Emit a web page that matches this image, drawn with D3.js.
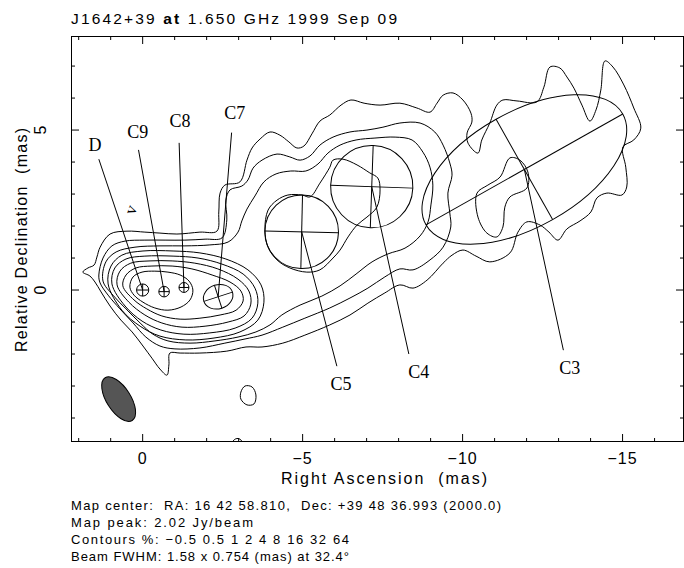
<!DOCTYPE html>
<html>
<head>
<meta charset="utf-8">
<title>J1642+39 at 1.650 GHz 1999 Sep 09</title>
<script src="https://cdn.jsdelivr.net/npm/d3@7/dist/d3.min.js"></script>
<style>
  html, body { margin: 0; padding: 0; background: #fff; }
  svg { display: block; }
  text { font-family: "Liberation Sans", Arial, sans-serif; fill: #000; white-space: pre; }
  text.serif { font-family: "Liberation Serif", "Times New Roman", serif; }
</style>
</head>
<body>
<svg id="map" width="684" height="568"></svg>
<script>
// ---------------- observation ----------------
const sourceName = "J1642+39";
const frequencyText = "1.650 GHz";
const epochText = "1999 Sep 09";
const mapCenterText = "Map center:  RA: 16 42 58.810,  Dec: +39 48 36.993 (2000.0)";
const mapPeak = 2.02;                                   // Jy/beam
const contourLevels = [-0.5, 0.5, 1, 2, 4, 8, 16, 32, 64]; // % of peak
const beamFWHM = [1.58, 0.754, 32.4];                   // major, minor (mas), PA (deg)
const beamPlotAt = [0.75, -3.41];                       // RA, Dec offset of the beam symbol (mas)

// ---------------- axes ----------------
const raRange = [2.24, -16.92];   // mas, east to the left
const decRange = [-4.75, 7.94];   // mas
const raTickLabels = [0, -5, -10, -15];
const decTickLabels = [0, 5];

// ---------------- model-fit components ----------------
const compNames = ["D", "C9", "C8", "C7", "C5", "C4", "C3"];
const compRA    = [0.00, -0.67, -1.29, -2.36, -4.97, -7.16, -11.93];
const compDec   = [0.00, -0.05, 0.08, -0.21, 1.82, 3.23, 3.77];
const compMajor = [0.38, 0.33, 0.31, 0.94, 2.30, 2.57, 7.06];  // FWHM, mas
const compMinor = [0.38, 0.33, 0.31, 0.75, 2.30, 2.57, 3.60];  // FWHM, mas
const compPA    = [0, 0, 0, -72, 88.7, 88, -60.6];             // deg, N through E

// label text anchors and far ends of the leader lines (RA, Dec in mas)
const labelRA   = [1.49, 0.15, -1.17, -2.88, -6.20, -8.63, -13.35];
const labelDec  = [4.53, 4.94, 5.28, 5.53, -2.94, -2.56, -2.44];
const leaderRA  = [1.37, 0.13, -1.14, -2.78, -6.07, -8.32, -13.15];
const leaderDec = [4.09, 4.38, 4.60, 4.92, -2.38, -2.00, -1.88];

// ---------------- contours (RA, Dec in mas) ----------------
const contour05 = [
  [1.87,0.56],[1.71,0.69],[1.52,0.78],[1.43,1.03],[1.33,1.34],[1.02,1.75],[0.49,1.84],[-0.07,1.81],
  [-0.54,1.78],[-1.07,1.75],[-1.79,1.81],[-2.32,1.84],[-2.38,2.44],[-2.42,3.03],[-2.57,3.28],[-3.04,3.38],
  [-3.26,4.06],[-3.42,4.44],[-3.67,4.72],[-3.98,4.94],[-4.29,4.84],[-4.57,4.63],[-4.82,4.44],[-5.04,4.50],
  [-5.29,4.88],[-5.54,5.28],[-5.85,5.47],[-6.20,5.78],[-6.51,5.94],[-6.92,5.84],[-7.42,5.78],[-8.04,5.84],
  [-8.57,5.69],[-8.98,5.56],[-9.20,5.84],[-9.39,6.09],[-9.70,6.16],[-10.01,5.94],[-10.26,5.53],[-10.29,5.25],
  [-10.14,4.91],[-10.17,4.59],[-10.48,4.28],[-10.60,4.69],[-10.85,5.22],[-11.07,5.78],[-11.26,5.94],[-11.70,5.91],
  [-12.32,5.88],[-12.54,6.34],[-12.73,6.97],[-13.04,6.94],[-13.26,6.66],[-13.48,6.31],[-13.73,5.78],[-13.98,5.28],
  [-14.17,5.63],[-14.32,6.25],[-14.45,7.16],[-14.70,6.97],[-15.04,6.41],[-15.35,5.69],[-15.57,5.06],[-15.35,4.69],
  [-15.01,4.47],[-15.10,3.84],[-15.13,3.22],[-14.98,2.97],[-14.51,3.03],[-14.20,2.88],[-14.01,2.44],[-13.67,2.16],
  [-13.26,1.91],[-12.98,1.56],[-12.70,1.81],[-12.42,2.03],[-12.01,2.13],[-11.73,1.81],[-11.48,1.16],[-10.85,0.88],
  [-10.42,1.06],[-10.01,1.25],[-9.67,1.09],[-9.39,0.84],[-8.89,0.31],[-8.45,0.06],[-8.04,0.16],[-7.57,-0.09],
  [-7.04,-0.41],[-6.48,-0.78],[-5.85,-1.09],[-5.07,-1.41],[-4.38,-1.66],[-3.73,-1.78],[-3.23,-1.78],[-2.63,-1.91],
  [-1.79,-1.97],[-1.17,-1.97],[-0.85,-1.97],[-0.82,-2.34],[-0.76,-2.66],[-0.54,-2.47],[-0.29,-2.13],[-0.01,-1.75],
  [0.33,-1.31],[0.68,-0.94],[1.02,-0.50],[1.30,-0.06],[1.49,0.25],[1.65,0.44]
];
const contour1 = [
  [1.37,0.47],[1.24,1.00],[0.96,1.38],[0.55,1.53],[-0.07,1.56],[-0.70,1.56],[-1.32,1.56],[-1.95,1.59],
  [-2.48,1.63],[-2.63,2.19],[-2.60,2.81],[-2.73,3.13],[-3.10,3.25],[-3.29,3.44],[-3.45,3.81],[-3.73,4.06],
  [-4.20,4.25],[-4.60,4.16],[-4.92,4.06],[-5.23,4.19],[-5.54,4.53],[-5.95,4.78],[-6.48,4.94],[-7.01,5.00],
  [-7.51,5.09],[-8.04,5.22],[-8.67,5.22],[-9.13,4.94],[-9.39,4.53],[-9.60,3.97],[-9.67,3.59],[-9.54,3.03],
  [-9.60,2.41],[-9.63,1.97],[-9.39,1.34],[-8.98,0.94],[-8.45,0.63],[-8.04,0.66],[-7.57,0.41],[-7.04,0.06],
  [-6.48,-0.25],[-5.85,-0.56],[-5.07,-0.88],[-4.38,-1.16],[-3.73,-1.41],[-3.20,-1.53],[-2.57,-1.66],[-1.79,-1.81],
  [-1.01,-1.84],[-0.54,-1.75],[-0.10,-1.47],[0.30,-1.03],[0.71,-0.59],[1.08,-0.16],[1.33,0.22]
];
const contour1Outer = [
  [-10.45,3.03],[-10.48,2.28],[-10.76,1.78],[-11.07,1.66],[-11.26,1.97],[-11.32,2.59],[-11.48,2.91],
  [-12.01,3.19],[-12.04,3.69],[-11.79,4.06],[-11.48,4.13],[-11.17,3.53],[-10.79,3.28]
];
const contour2 = [
  [1.24,0.28],[1.15,0.88],[0.83,1.19],[0.24,1.34],[-0.54,1.38],[-1.32,1.38],[-2.10,1.41],[-2.67,1.50],
  [-2.98,1.81],[-3.10,2.16],[-3.26,2.53],[-3.51,2.94],[-3.79,3.38],[-4.17,3.63],[-4.63,3.72],[-5.10,3.72],
  [-5.48,3.94],[-5.79,4.28],[-6.17,4.53],[-6.67,4.69],[-7.26,4.75],[-7.89,4.78],[-8.42,4.69],[-8.76,4.31],
  [-8.98,3.84],[-9.07,3.28],[-9.01,2.66],[-8.92,2.13],[-8.67,1.69],[-8.20,1.31],[-7.67,1.13],[-7.17,0.88],
  [-6.67,0.50],[-6.17,0.13],[-5.60,-0.19],[-4.92,-0.47],[-4.35,-0.78],[-3.98,-1.09],[-3.54,-1.31],[-2.98,-1.47],
  [-2.26,-1.59],[-1.48,-1.66],[-0.79,-1.59],[-0.32,-1.38],[0.08,-1.03],[0.52,-0.59],[0.93,-0.16]
];
const contour4Core = [
  [1.08,0.19],[0.99,0.75],[0.65,1.09],[-0.01,1.22],[-0.95,1.22],[-1.79,1.16],[-2.60,0.97],[-3.29,0.63],
  [-3.70,0.16],[-3.79,-0.38],[-3.60,-0.94],[-3.04,-1.31],[-2.23,-1.50],[-1.35,-1.56],[-0.54,-1.44],[0.08,-1.13],
  [0.65,-0.63]
];
const contour4Jet = [
  [-5.95,4.06],[-6.26,4.09],[-6.70,3.91],[-7.10,3.66],[-7.35,3.50],[-7.42,3.13],[-7.32,2.59],[-7.01,2.28],
  [-6.70,2.03],[-6.42,1.66],[-6.17,1.25],[-5.95,1.00],[-5.54,0.63],[-5.13,0.56],[-4.60,0.69],[-4.20,0.94],
  [-3.92,1.34],[-3.82,1.88],[-3.92,2.50],[-4.20,2.81],[-4.54,2.97],[-4.98,2.97],[-5.23,2.91],[-5.54,3.34],
  [-5.85,3.84]
];
const contour8 = [
  [0.96,0.19],[0.87,0.69],[0.52,0.97],[-0.07,1.06],[-0.95,1.06],[-1.73,1.00],[-2.48,0.81],[-3.14,0.50],
  [-3.51,0.06],[-3.60,-0.41],[-3.42,-0.88],[-2.89,-1.19],[-2.10,-1.34],[-1.29,-1.38],[-0.57,-1.25],[0.02,-0.97],
  [0.55,-0.50]
];
const contour16 = [
  [0.80,0.16],[0.71,0.59],[0.37,0.84],[-0.23,0.91],[-0.92,0.91],[-1.63,0.84],[-2.35,0.66],[-2.98,0.34],
  [-3.32,-0.03],[-3.38,-0.44],[-3.17,-0.81],[-2.67,-1.00],[-1.95,-1.13],[-1.23,-1.16],[-0.60,-1.03],[-0.07,-0.78],
  [0.43,-0.38]
];
const contour32 = [
  [0.62,0.13],[0.52,0.47],[0.21,0.69],[-0.29,0.75],[-0.92,0.75],[-1.54,0.66],[-2.17,0.47],[-2.73,0.25],
  [-3.07,-0.03],[-3.14,-0.34],[-2.92,-0.63],[-2.42,-0.78],[-1.79,-0.88],[-1.17,-0.91],[-0.60,-0.81],[-0.13,-0.59],
  [0.27,-0.31]
];
const contour64 = [
  [0.40,0.09],[0.30,0.41],[0.02,0.56],[-0.38,0.59],[-0.79,0.56],[-1.17,0.47],[-1.45,0.28],[-1.57,0.00],
  [-1.48,-0.31],[-1.20,-0.53],[-0.79,-0.63],[-0.38,-0.56],[-0.01,-0.38],[0.27,-0.16]
];
const contourIsland = [
  [-3.07,-3.19],[-3.20,-3.00],[-3.42,-3.03],[-3.54,-3.28],[-3.48,-3.56],[-3.26,-3.59],[-3.07,-3.41]
];
const contourEdge = [
  [-2.79,-4.88],[-2.85,-4.69],[-2.98,-4.64],[-3.10,-4.72],[-3.14,-4.88]
];
const contourSet = [
  contour05, contour1, contour1Outer, contour2, contour4Core, contour4Jet,
  contour8, contour16, contour32, contour64, contourIsland, contourEdge
];

// ---------------- layout ----------------
const svg = d3.select("#map");
const frame = { left: 71, right: 684, top: 36, bottom: 442 };
const x = d3.scaleLinear().domain(raRange).range([frame.left, frame.right]);
const y = d3.scaleLinear().domain(decRange).range([frame.bottom, frame.top]);
const pxPerMas = Math.abs(x(1) - x(0));

svg.append("defs").append("clipPath").attr("id", "plotClip")
  .append("rect")
  .attr("x", frame.left).attr("y", frame.top)
  .attr("width", frame.right - frame.left).attr("height", frame.bottom - frame.top);

const plot = svg.append("g").attr("clip-path", "url(#plotClip)");

// contour lines
const contourLine = d3.line()
  .x(d => x(d[0])).y(d => y(d[1]))
  .curve(d3.curveCatmullRomClosed.alpha(0.5));

plot.append("g").attr("class", "contours")
  .selectAll("path").data(contourSet).join("path")
  .attr("d", contourLine)
  .attr("fill", "none")
  .attr("stroke", "#000")
  .attr("stroke-width", 1);

// rotation in screen degrees for a position angle measured north through east
const screenAngle = pa => -(90 + pa);

// beam
const beamG = plot.append("g")
  .attr("transform", `translate(${x(beamPlotAt[0])},${y(beamPlotAt[1])}) rotate(${screenAngle(beamFWHM[2])})`);
beamG.append("ellipse")
  .attr("rx", beamFWHM[0] / 2 * pxPerMas)
  .attr("ry", beamFWHM[1] / 2 * pxPerMas)
  .attr("fill", "#555")
  .attr("stroke", "#000")
  .attr("stroke-width", 1);

// components
const comps = compNames.map((name, i) => ({
  name, ra: compRA[i], dec: compDec[i], maj: compMajor[i], min: compMinor[i], pa: compPA[i],
  lra: labelRA[i], ldec: labelDec[i], era: leaderRA[i], edec: leaderDec[i]
}));

const compG = plot.append("g").attr("class", "components")
  .selectAll("g").data(comps).join("g")
  .attr("transform", d => `translate(${x(d.ra)},${y(d.dec)}) rotate(${screenAngle(d.pa)})`);

compG.append("ellipse")
  .attr("rx", d => d.maj / 2 * pxPerMas)
  .attr("ry", d => d.min / 2 * pxPerMas)
  .attr("fill", "none").attr("stroke", "#000").attr("stroke-width", 1);
compG.append("line")
  .attr("x1", d => -d.maj / 2 * pxPerMas).attr("x2", d => d.maj / 2 * pxPerMas)
  .attr("y1", 0).attr("y2", 0)
  .attr("stroke", "#000").attr("stroke-width", 1);
compG.append("line")
  .attr("y1", d => -d.min / 2 * pxPerMas).attr("y2", d => d.min / 2 * pxPerMas)
  .attr("x1", 0).attr("x2", 0)
  .attr("stroke", "#000").attr("stroke-width", 1);

// leader lines and labels
svg.append("g").selectAll("line").data(comps).join("line")
  .attr("x1", d => x(d.ra)).attr("y1", d => y(d.dec))
  .attr("x2", d => x(d.era)).attr("y2", d => y(d.edec))
  .attr("stroke", "#000").attr("stroke-width", 1);

svg.append("g").selectAll("text").data(comps).join("text")
  .attr("class", "serif")
  .attr("x", d => x(d.lra)).attr("y", d => y(d.ldec))
  .attr("dy", "0.35em")
  .attr("text-anchor", "middle")
  .attr("font-size", 18)
  .text(d => d.name);

// small mark near the core
svg.append("text").attr("class", "serif")
  .attr("transform", `translate(${x(0.36)},${y(2.5)}) rotate(-70)`)
  .attr("text-anchor", "middle").attr("dy", "0.3em")
  .attr("font-size", 17).text("v");

// ---------------- frame and ticks ----------------
const raMinor = d3.range(Math.ceil(raRange[1]), Math.floor(raRange[0]) + 1);
const decMinor = d3.range(Math.ceil(decRange[0]), Math.floor(decRange[1]) + 1);
const tickLen = v => (v % 5 === 0 ? 8 : 4);

const axes = svg.append("g").attr("stroke", "#000").attr("stroke-width", 1);
axes.append("rect")
  .attr("x", frame.left + 0.5).attr("y", frame.top + 0.5)
  .attr("width", frame.right - frame.left - 1).attr("height", frame.bottom - frame.top - 1)
  .attr("fill", "none");

axes.selectAll("line.xb").data(raMinor).join("line").attr("class", "xb")
  .attr("x1", d => x(d)).attr("x2", d => x(d))
  .attr("y1", frame.bottom).attr("y2", d => frame.bottom - tickLen(d));
axes.selectAll("line.xt").data(raMinor).join("line").attr("class", "xt")
  .attr("x1", d => x(d)).attr("x2", d => x(d))
  .attr("y1", frame.top).attr("y2", d => frame.top + tickLen(d));
axes.selectAll("line.yl").data(decMinor).join("line").attr("class", "yl")
  .attr("y1", d => y(d)).attr("y2", d => y(d))
  .attr("x1", frame.left).attr("x2", d => frame.left + tickLen(d));
axes.selectAll("line.yr").data(decMinor).join("line").attr("class", "yr")
  .attr("y1", d => y(d)).attr("y2", d => y(d))
  .attr("x1", frame.right).attr("x2", d => frame.right - tickLen(d));

const fmt = d3.format("d");
svg.append("g").selectAll("text").data(raTickLabels).join("text")
  .attr("x", d => x(d)).attr("y", 463.5)
  .attr("text-anchor", "middle").attr("font-size", 16)
  .attr("letter-spacing", 1)
  .text(fmt);
svg.append("g").selectAll("text").data(decTickLabels).join("text")
  .attr("transform", d => `translate(46,${y(d)}) rotate(-90)`)
  .attr("text-anchor", "middle").attr("font-size", 16)
  .text(fmt);

// axis titles
svg.append("text")
  .attr("x", 384).attr("y", 484)
  .attr("text-anchor", "middle").attr("font-size", 16)
  .attr("textLength", 206).attr("lengthAdjust", "spacing")
  .text("Right Ascension  (mas)");
svg.append("text")
  .attr("transform", "translate(27,240) rotate(-90)")
  .attr("text-anchor", "middle").attr("font-size", 16)
  .attr("textLength", 224).attr("lengthAdjust", "spacing")
  .text("Relative Declination  (mas)");

// title
const title = svg.append("text")
  .attr("x", 71).attr("y", 24).attr("font-size", 15.5)
  .attr("textLength", 326).attr("lengthAdjust", "spacing");
title.append("tspan").text(sourceName + " ");
title.append("tspan").attr("font-weight", "bold").text("at");
title.append("tspan").text(" " + frequencyText + " " + epochText);

// map notes
const levelText = contourLevels.map(v => d3.format("")(v)).join(" ");
const notes = [
  { text: mapCenterText, w: 430 },
  { text: `Map peak: ${mapPeak.toFixed(2)} Jy/beam`, w: 182 },
  { text: `Contours %: ${levelText}`, w: 278 },
  { text: `Beam FWHM: ${beamFWHM[0]} x ${beamFWHM[1]} (mas) at ${beamFWHM[2]}\u00b0`, w: 278 }
];
svg.append("g").selectAll("text").data(notes).join("text")
  .attr("x", 71).attr("y", (d, i) => 510 + i * 17)
  .attr("font-size", 13)
  .attr("textLength", d => d.w).attr("lengthAdjust", "spacing")
  .text(d => d.text);
</script>
</body>
</html>
